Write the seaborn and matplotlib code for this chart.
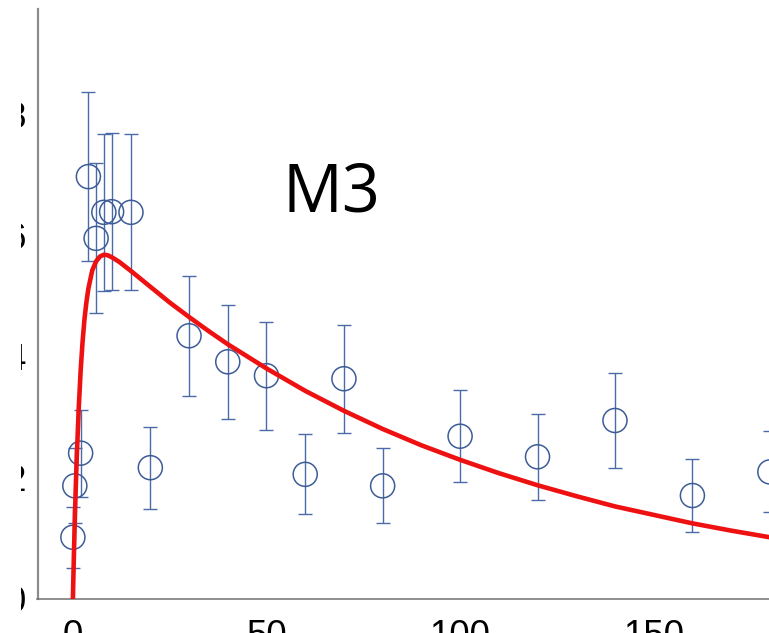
import matplotlib
matplotlib.use("Agg")
import matplotlib.pyplot as plt
from matplotlib.patches import Rectangle
import seaborn as sns
import pandas as pd

# Measured concentrations (mean and error) at each sampling time
times = [0, 0.5, 2, 4, 6, 8, 10, 15, 20, 30, 40, 50, 60, 70, 80, 100, 120, 140, 160, 180]
means = [1.02, 1.87, 2.41, 6.98, 5.96, 6.39, 6.40, 6.39, 2.17, 4.35, 3.92, 3.69,
         2.06, 3.64, 1.87, 2.69, 2.35, 2.95, 1.71, 2.10]
errors = [0.50, 0.62, 0.72, 1.40, 1.24, 1.30, 1.30, 1.29, 0.68, 0.99, 0.94, 0.89,
          0.66, 0.89, 0.62, 0.76, 0.71, 0.79, 0.60, 0.67]

# Fitted model curve
fit_t = [0, 0.25, 0.5, 0.75, 1, 1.5, 2, 2.5, 3, 3.5, 4, 5, 6, 7, 8, 9, 10, 12, 15,
         20, 25, 30, 35, 40, 45, 50, 60, 70, 80, 90, 100, 110, 120, 130, 140, 150,
         160, 170, 180, 190, 200]
fit_y = [0.0, 0.70, 1.31, 1.86, 2.34, 3.14, 3.77, 4.25, 4.63, 4.91, 5.13, 5.43,
         5.58, 5.66, 5.69, 5.68, 5.65, 5.57, 5.42, 5.16, 4.90, 4.66, 4.43, 4.21,
         4.01, 3.81, 3.44, 3.11, 2.81, 2.54, 2.30, 2.08, 1.88, 1.70, 1.53, 1.39,
         1.25, 1.13, 1.02, 0.93, 0.84]

x_ticks = [0, 50, 100, 150]
y_ticks = [0, 2, 4, 6, 8]
panel_label = "M3"

obs = pd.DataFrame({"t": times, "c": means, "err": errors})
fit = pd.DataFrame({"t": fit_t, "c": fit_y})

sns.set_style("white")
plt.rcParams["font.family"] = ["Liberation Sans", "DejaVu Sans"]

W, H = 769, 633
fig = plt.figure(figsize=(W / 100, H / 100), dpi=100)

x_lo, x_hi = -9.14, 200
y_lo, y_hi = 0, 9.75
px_per_x = 3.872
left_px, bottom_px, top_px = 37.5, 34, 624
ax = fig.add_axes([left_px / W, bottom_px / H,
                   (x_hi - x_lo) * px_per_x / W, (top_px - bottom_px) / H])

bar_color = "#4a6aa8"
edge_color = "#3d5c97"

ax.errorbar(obs["t"], obs["c"], yerr=obs["err"], fmt="none", ecolor=bar_color,
            elinewidth=1.0, capsize=4.8, capthick=1.0, zorder=2, clip_on=True)
sns.scatterplot(data=obs, x="t", y="c", ax=ax, marker="o", s=300,
                facecolor="none", edgecolor=edge_color, linewidth=1.1, zorder=2,
                legend=False)
sns.lineplot(data=fit, x="t", y="c", ax=ax, color="#ee1111", linewidth=3.3,
             estimator=None, sort=False, zorder=3, legend=False)

ax.set_xlim(x_lo, x_hi)
ax.set_ylim(y_lo, y_hi)
ax.set_xticks(x_ticks)
ax.set_yticks(y_ticks)
ax.set_xlabel("")
ax.set_ylabel("")

for side in ("top", "right"):
    ax.spines[side].set_visible(False)
ax.spines["left"].set_color("#8c8c8c")
ax.spines["left"].set_linewidth(1.6)
ax.spines["bottom"].set_color("#707070")
ax.spines["bottom"].set_linewidth(1.1)

ax.tick_params(axis="x", direction="in", length=5.5, width=0.9, color="#707070",
               labelsize=26.5, pad=14.5, labelcolor="black")
ax.tick_params(axis="y", direction="in", length=5.5, width=0.9, color="#555555",
               labelsize=26.5, pad=8.3, labelcolor="black")

fig.text(331 / W, (H - 212) / H, panel_label, ha="center", va="baseline",
         fontsize=48, family=["Open Sans", "DejaVu Sans"], color="black")

# the figure's left margin is trimmed, leaving only the right edge of the y labels
fig.add_artist(Rectangle((0, 0), 20.5 / W, 1, transform=fig.transFigure,
                         facecolor="white", edgecolor="none", zorder=10))

fig.savefig("out.png", dpi=100)
